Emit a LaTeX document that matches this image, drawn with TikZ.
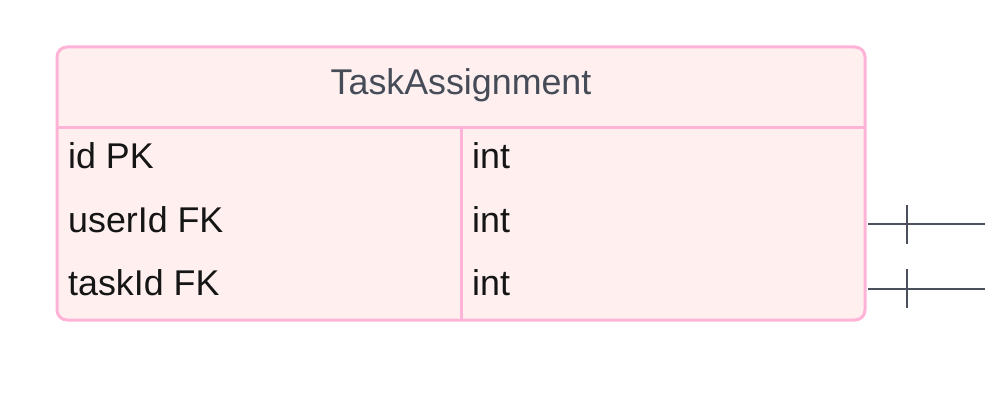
\documentclass[tikz,border=0pt]{standalone}
\usepackage{fontspec}
\setmainfont{Liberation Sans}
\begin{document}
\begin{tikzpicture}[x=1pt,y=-1pt,
  entbox/.style={draw=entline, fill=entfill, line width=3pt, rounded corners=10pt},
  divider/.style={draw=entline, line width=3pt},
  title/.style={text=titlecol, font=\fontsize{35.8}{43}\selectfont, anchor=base, inner sep=0pt},
  cell/.style={text=cellcol, font=\fontsize{35.8}{43}\selectfont, anchor=base west, inner sep=0pt},
  rel/.style={draw=relcol, line width=2pt}]
\definecolor{entline}{HTML}{FFB3D7}
\definecolor{entfill}{HTML}{FFEFEF}
\definecolor{titlecol}{HTML}{454C58}
\definecolor{cellcol}{HTML}{151515}
\definecolor{relcol}{HTML}{4A505C}
\useasboundingbox (0,0) rectangle (985,401);
\fill[white] (0,0) rectangle (985,401);

% entity box
\path[entbox] (57,47) rectangle (865,320);
\draw[divider] (57,128) -- (865,128);
\draw[divider] (461,128) -- (461,320);

\node[title] (hdr) at (461,95) {TaskAssignment};

\node[cell] (n1) at (68,168) {id PK};
\node[cell] (t1) at (472,168) {int};
\node[cell] (n2) at (68,232) {userId FK};
\node[cell] (t2) at (472,232) {int};
\node[cell] (n3) at (68,295) {taskId FK};
\node[cell] (t3) at (472,295) {int};

% relationship ends leaving the box
\coordinate (a1) at (868,224);
\coordinate (b1) at (985,224);
\coordinate (a2) at (868,289);
\coordinate (b2) at (985,289);
\draw[rel] (a1) -- (b1);
\draw[rel] (a2) -- (b2);
\draw[rel] (907,205) -- (907,244);
\draw[rel] (907,269) -- (907,308);
\end{tikzpicture}
\end{document}
